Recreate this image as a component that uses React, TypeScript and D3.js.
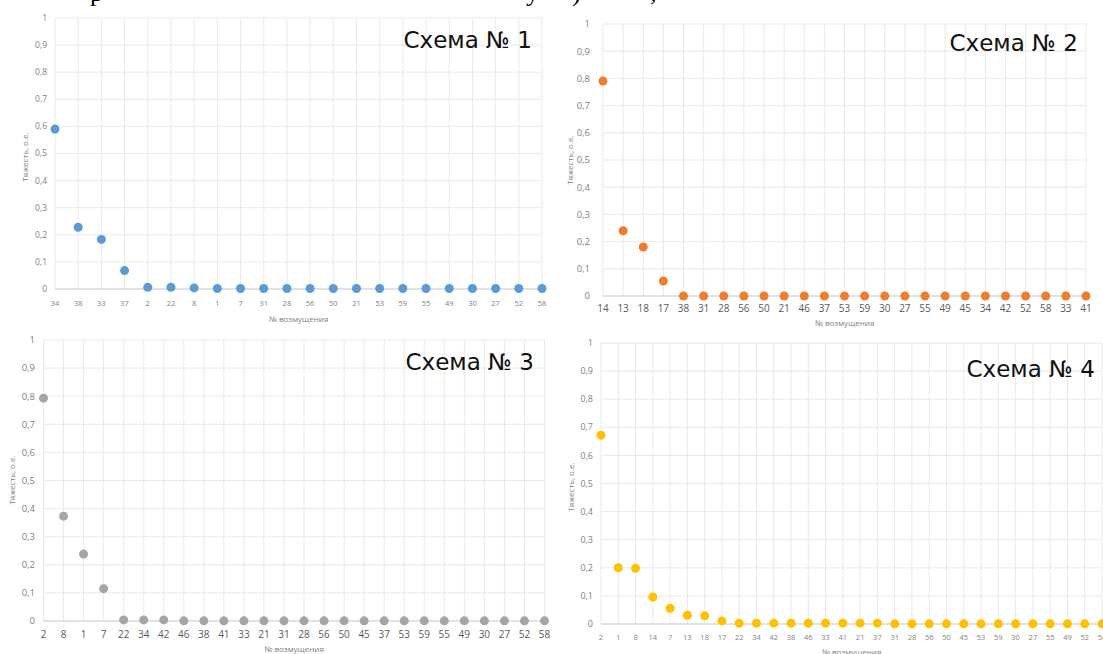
import React from "react";
import * as d3 from "d3";

// ---------- data ----------
const cats1 = ["34","38","33","37","2","22","8","1","7","31","28","56","50","21","53","59","55","49","30","27","52","58"];
const vals1 = [0.59,0.228,0.183,0.068,0.006,0.006,0.004,0.002,0.002,0.002,0.002,0.002,0.002,0.002,0.002,0.002,0.002,0.002,0.002,0.002,0.002,0.002];

const cats2 = ["14","13","18","17","38","31","28","56","50","21","46","37","53","59","30","27","55","49","45","34","42","52","58","33","41"];
const vals2 = [0.79,0.24,0.18,0.055,0,0,0,0,0,0,0,0,0,0,0,0,0,0,0,0,0,0,0,0,0];

const cats3 = ["2","8","1","7","22","34","42","46","38","41","33","21","31","28","56","50","45","37","53","59","55","49","30","27","52","58"];
const vals3 = [0.793,0.373,0.238,0.115,0.004,0.004,0.004,0.0005,0.0005,0.0005,0.0005,0.0005,0.0005,0.0005,0.0005,0.0005,0.0005,0.0005,0.0005,0.0005,0.0005,0.0005,0.0005,0.0005,0.0005,0.0005];

const cats4 = ["2","1","8","14","7","13","18","17","22","34","42","38","46","33","41","21","37","31","28","56","50","45","53","59","30","27","55","49","52","58"];
const vals4 = [0.672,0.2,0.198,0.096,0.056,0.031,0.029,0.011,0.003,0.003,0.003,0.003,0.003,0.003,0.003,0.003,0.003,0.0005,0.0005,0.0005,0.0005,0.0005,0.0005,0.0005,0.0005,0.0005,0.0005,0.0005,0.0005,0.0005];

const titles = ["Схема № 1", "Схема № 2", "Схема № 3", "Схема № 4"];
const yTicks = [0, 0.1, 0.2, 0.3, 0.4, 0.5, 0.6, 0.7, 0.8, 0.9, 1];
const xTitle = "№ возмущения";
const yTitle = "Тяжесть, о.е.";

// ---------- layout ----------
const layouts = [
  { cats: cats1, vals: vals1, color: "#5b9bd5", xL: 55, xR: 542, yT: 18, yB: 289, tickX: 47, tickFont: 8.5, catY: 303, catFont: 7.5, axTY: 319, yTX: 25, yTY: 157, titleX: 532, titleY: 48, catColor: "#808080" },
  { cats: cats2, vals: vals2, color: "#ed7d31", xL: 603, xR: 1086, yT: 24, yB: 296, tickX: 590, tickFont: 9.5, catY: 308.5, catFont: 10, axTY: 323, yTX: 570, yTY: 160, titleX: 1078, titleY: 51, catColor: "#595959" },
  { cats: cats3, vals: vals3, color: "#a5a5a5", xL: 43.5, xR: 544.5, yT: 340, yB: 621, tickX: 35, tickFont: 9.5, catY: 634, catFont: 10, axTY: 649, yTX: 12, yTY: 480, titleX: 534, titleY: 370, catColor: "#595959" },
  { cats: cats4, vals: vals4, color: "#ffc000", xL: 601, xR: 1102, yT: 343, yB: 624, tickX: 593, tickFont: 9, catY: 637, catFont: 7.5, axTY: 652, yTX: 571, yTY: 487, titleX: 1095, titleY: 377, catColor: "#7f7f7f" },
];

const fmt = (v: number) => d3.format("~g")(v).replace(".", ",");
const labelFont = "'Open Sans', 'Liberation Sans', sans-serif";

function Panel({ L, title }: { L: any; title: string }) {
  const x = d3.scalePoint<string>().domain(L.cats).range([L.xL, L.xR]);
  const y = d3.scaleLinear().domain([0, 1]).range([L.yB, L.yT]);
  return (
    <g>
      {yTicks.map((t) => (
        <line key={"h" + t} x1={L.xL} x2={L.xR} y1={y(t)} y2={y(t)} stroke="#e3e3e3" strokeWidth={0.8} />
      ))}
      {L.cats.map((c: string) => (
        <line key={"v" + c} x1={x(c)} x2={x(c)} y1={L.yT} y2={L.yB} stroke="#e3e3e3" strokeWidth={0.8} />
      ))}
      <line x1={L.xL} x2={L.xR} y1={y(0)} y2={y(0)} stroke="#d0d0d0" strokeWidth={1} />
      {yTicks.map((t) => (
        <text key={"t" + t} x={L.tickX} y={y(t) + L.tickFont * 0.35} textAnchor="end" fontSize={L.tickFont} fill="#7f7f7f" fontFamily={labelFont}>
          {fmt(t)}
        </text>
      ))}
      {L.cats.map((c: string) => (
        <text key={"c" + c} x={x(c)} y={L.catY + L.catFont * 0.35} textAnchor="middle" fontSize={L.catFont} fill={L.catColor} fontFamily={labelFont}>
          {c}
        </text>
      ))}
      <text x={(L.xL + L.xR) / 2} y={L.axTY + 3} textAnchor="middle" fontSize={8} fill="#808080" fontFamily={labelFont}>
        {xTitle}
      </text>
      <text transform={`translate(${L.yTX},${L.yTY}) rotate(-90)`} textAnchor="middle" fontSize={8} fill="#808080" fontFamily={labelFont} dy={3}>
        {yTitle}
      </text>
      {L.cats.map((c: string, i: number) => (
        <circle key={"p" + c} cx={x(c)} cy={y(L.vals[i])} r={4.5} fill={L.color} />
      ))}
      <text x={L.titleX} y={L.titleY} textAnchor="end" fontSize={23} fill="#111" fontFamily="'DejaVu Sans', sans-serif">
        {title}
      </text>
    </g>
  );
}

export default function App() {
  return (
    <svg width={1103} height={654} style={{ position: "absolute", left: 0, top: 0, background: "#fff" }}>
      <rect width={1103} height={654} fill="#fff" />
      <text x={90} y={1} fontSize={26} fontFamily="'Liberation Serif', serif" fill="#000">р</text>
      <text x={526} y={1} fontSize={26} fontFamily="'Liberation Serif', serif" fill="#000">у</text>
      <text x={572} y={1} fontSize={26} fontFamily="'Liberation Serif', serif" fill="#000">)</text>
      <text x={650} y={1} fontSize={26} fontFamily="'Liberation Serif', serif" fill="#000">,</text>
      {layouts.map((L, i) => (
        <Panel key={i} L={L} title={titles[i]} />
      ))}
    </svg>
  );
}
